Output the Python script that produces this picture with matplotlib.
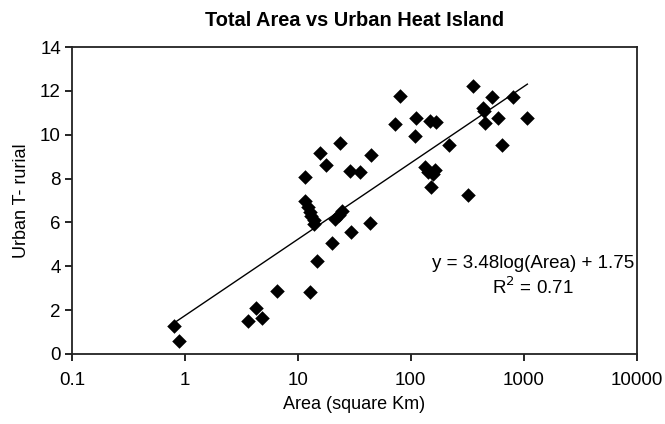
import numpy as np
import matplotlib
matplotlib.use("Agg")
import matplotlib.pyplot as plt

plt.rcParams['font.family'] = ['Liberation Sans', 'DejaVu Sans']

# Data (Area in km^2, Urban - rural temperature)
area = [0.80, 0.89, 3.6, 4.3, 4.8, 6.6, 12.7, 14.8, 20.0, 29.6,
        11.7, 12.2, 12.7, 13.2, 13.8, 14.0,
        21.5, 23.0, 24.5, 23.8, 15.6, 17.9, 11.7, 29.2, 35.5, 44.5, 44.0,
        72.9, 81.0, 112, 110, 149, 169, 135, 143, 159, 165, 151,
        217, 324, 359, 438, 450, 457, 530, 593, 646, 802, 1073]
uhi = [1.28, 0.61, 1.49, 2.08, 1.64, 2.89, 2.84, 4.25, 5.08, 5.55,
       6.99, 6.72, 6.49, 6.29, 6.11, 5.91,
       6.15, 6.35, 6.50, 9.61, 9.15, 8.60, 8.06, 8.36, 8.29, 9.07, 5.96,
       10.47, 11.75, 10.75, 9.94, 10.64, 10.57, 8.55, 8.30, 8.22, 8.40, 7.60,
       9.53, 7.23, 12.20, 11.23, 11.10, 10.55, 11.72, 10.75, 9.53, 11.72, 10.75]

fit_slope = 3.48
fit_intercept = 1.75
fit_range = [0.8, 1080]

x_ticks = [0.1, 1, 10, 100, 1000, 10000]
x_ticklabels = ['0.1', '1', '10', '100', '1000', '10000']
y_ticks = [0, 2, 4, 6, 8, 10, 12, 14]

W, H = 665, 424
fig = plt.figure(figsize=(6.65, 4.24), dpi=100)
ax = fig.add_axes([72/W, 1-354/H, (636.5-72)/W, (354-47)/H])

ax.scatter(area, uhi, marker='D', s=55, color='black', zorder=3, linewidths=0)

xf = np.logspace(np.log10(fit_range[0]), np.log10(fit_range[1]), 100)
ax.plot(xf, fit_slope*np.log10(xf) + fit_intercept, color='black', lw=1.0, zorder=2)

ax.set_xscale('log')
ax.set_xlim(0.1, 10000)
ax.set_ylim(0, 14)
ax.set_xticks(x_ticks)
ax.set_xticklabels(x_ticklabels)
ax.xaxis.set_minor_locator(matplotlib.ticker.NullLocator())
ax.set_yticks(y_ticks)
ax.tick_params(axis='both', direction='out', length=5, width=1.2, labelsize=13.5, colors='black')
ax.tick_params(axis='x', pad=8)
ax.tick_params(axis='y', pad=3)
for s in ax.spines.values():
    s.set_linewidth(1.3)
    s.set_color('#222222')

ax.set_xlabel('Area (square Km)', fontsize=13, labelpad=5)
ax.set_ylabel('Urban T- rurial', fontsize=13, labelpad=7)
fig.text(0.5 * (72 + 636.5) / W, 1 - 20/H, 'Total Area vs Urban Heat Island',
         ha='center', va='center', fontsize=14.4, fontweight='bold')

fig.text(533/W, 1 - 263/H, 'y = 3.48log(Area) + 1.75', fontsize=13.5,
         ha='center', va='center')
fig.text(533/W, 1 - 287/H, 'R$^2$ = 0.71', fontsize=13.5,
         ha='center', va='center')

fig.savefig('out.png', dpi=100)
